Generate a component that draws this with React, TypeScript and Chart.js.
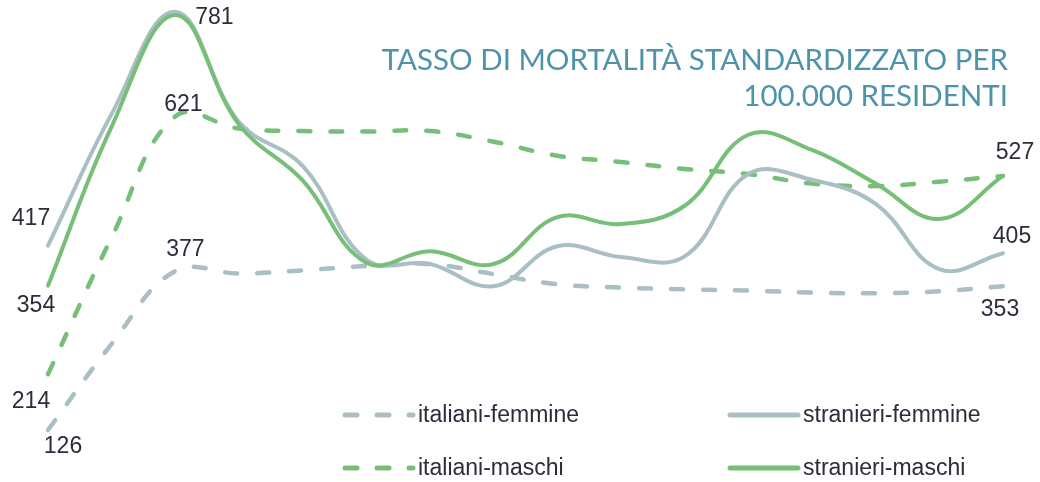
import React, { useEffect, useRef } from "react";
import { Chart, registerables } from "chart.js";

Chart.register(...registerables);

// ---- data ----
const periods = ["1", "2", "3", "4", "5", "6", "7", "8", "9", "10", "11", "12", "13", "14", "15", "16"];
const italianiFemmine = [126, 262, 377, 373, 378, 385, 388, 372, 356, 351, 348, 346, 343, 342, 345, 353];
const italianiMaschi = [214, 430, 621, 602, 598, 597, 598, 581, 559, 549, 538, 530, 515, 511, 518, 527];
const stranieriFemmine = [417, 625, 786, 612, 543, 395, 388, 353, 416, 399, 400, 530, 521, 483, 380, 405];
const stranieriMaschi = [354, 605, 781, 608, 520, 390, 408, 388, 462, 451, 480, 592, 568, 515, 459, 527];
const seriesNames = ["italiani-femmine", "italiani-maschi", "stranieri-femmine", "stranieri-maschi"];
const titleLines = ["TASSO DI MORTALITÀ STANDARDIZZATO PER", "100.000 RESIDENTI"];

// ---- style ----
const GRAY = "#a9bfc3";
const GREEN = "#77bf78";
const TITLE_COLOR = "#4d93a9";
const LABEL_COLOR = "#2c2c3a";
const DASH = [12, 20];

// which points get a value label: dataset index, point index, offset
const valueLabels = [
  { ds: 0, idx: 0, dx: 15, dy: 17 },
  { ds: 0, idx: 2, dx: 10, dy: -21 },
  { ds: 0, idx: 15, dx: -3, dy: 23 },
  { ds: 1, idx: 0, dx: -17, dy: 27 },
  { ds: 1, idx: 2, dx: 8, dy: -12 },
  { ds: 2, idx: 0, dx: -17, dy: -27 },
  { ds: 2, idx: 15, dx: 9, dy: -17 },
  { ds: 3, idx: 0, dx: -12, dy: 20 },
  { ds: 3, idx: 2, dx: 39, dy: 3 },
  { ds: 3, idx: 15, dx: 12, dy: -23 },
];

const legendSlots = [
  { ds: 0, x: 345, y: 415 },
  { ds: 2, x: 730, y: 415 },
  { ds: 1, x: 345, y: 468 },
  { ds: 3, x: 730, y: 468 },
];

export default function App() {
  const ref = useRef<HTMLCanvasElement>(null);

  useEffect(() => {
    if (!ref.current) return;
    const series = [italianiFemmine, italianiMaschi, stranieriFemmine, stranieriMaschi];
    const colors = [GRAY, GREEN, GRAY, GREEN];
    const dashed = [true, true, false, false];
    const orders = [3, 2, 1, 0];

    const datasets = series.map((data, i) => ({
      label: seriesNames[i],
      data,
      borderColor: colors[i],
      backgroundColor: colors[i],
      borderWidth: dashed[i] ? 4.5 : 4,
      borderDash: dashed[i] ? DASH : [],
      borderCapStyle: "round" as const,
      borderJoinStyle: "round" as const,
      pointRadius: 0,
      pointHoverRadius: 0,
      tension: 0.4,
      fill: false,
      order: orders[i],
      clip: false as any,
    }));

    const overlay = {
      id: "overlay",
      afterDatasetsDraw(chart: any) {
        const ctx = chart.ctx as CanvasRenderingContext2D;
        ctx.save();
        // value labels
        ctx.fillStyle = LABEL_COLOR;
        ctx.font = "23px 'Liberation Sans Narrow', 'Liberation Sans', sans-serif";
        ctx.textAlign = "center";
        ctx.textBaseline = "middle";
        valueLabels.forEach((l) => {
          const pt = chart.getDatasetMeta(l.ds).data[l.idx];
          const v = series[l.ds][l.idx];
          ctx.fillText(String(v), pt.x + l.dx, pt.y + l.dy);
        });
        // title
        ctx.fillStyle = TITLE_COLOR;
        ctx.font = "29.5px Lato, 'Open Sans', sans-serif";
        ctx.textAlign = "right";
        ctx.textBaseline = "alphabetic";
        ctx.fillText(titleLines[0], 1008, 69.5);
        ctx.fillText(titleLines[1], 1008, 106);
        // legend
        legendSlots.forEach((s) => {
          ctx.save();
          ctx.strokeStyle = colors[s.ds];
          ctx.lineWidth = 5;
          ctx.lineCap = "round";
          ctx.setLineDash(dashed[s.ds] ? DASH : []);
          ctx.beginPath();
          ctx.moveTo(s.x, s.y);
          ctx.lineTo(s.x + 68, s.y);
          ctx.stroke();
          ctx.restore();
          ctx.fillStyle = LABEL_COLOR;
          ctx.font = "23px 'Liberation Sans', sans-serif";
          ctx.textAlign = "left";
          ctx.textBaseline = "alphabetic";
          ctx.fillText(seriesNames[s.ds], s.x + 73, s.y + 7);
        });
        ctx.restore();
      },
    };

    const chart = new Chart(ref.current, {
      type: "line",
      data: { labels: periods, datasets },
      options: {
        animation: false,
        responsive: false,
        maintainAspectRatio: false,
        layout: { padding: { left: 48, right: 37, top: 3, bottom: 35.5 } },
        plugins: { legend: { display: false }, tooltip: { enabled: false }, title: { display: false } },
        scales: {
          x: { display: false, offset: false },
          y: { display: false, min: 100, max: 800 },
        },
      },
      plugins: [overlay],
    });
    return () => chart.destroy();
  }, []);

  return (
    <div style={{ position: "fixed", left: 0, top: 0, width: 1040, height: 482, background: "#fff" }}>
      <canvas ref={ref} width={1040} height={482} style={{ display: "block" }} />
    </div>
  );
}
